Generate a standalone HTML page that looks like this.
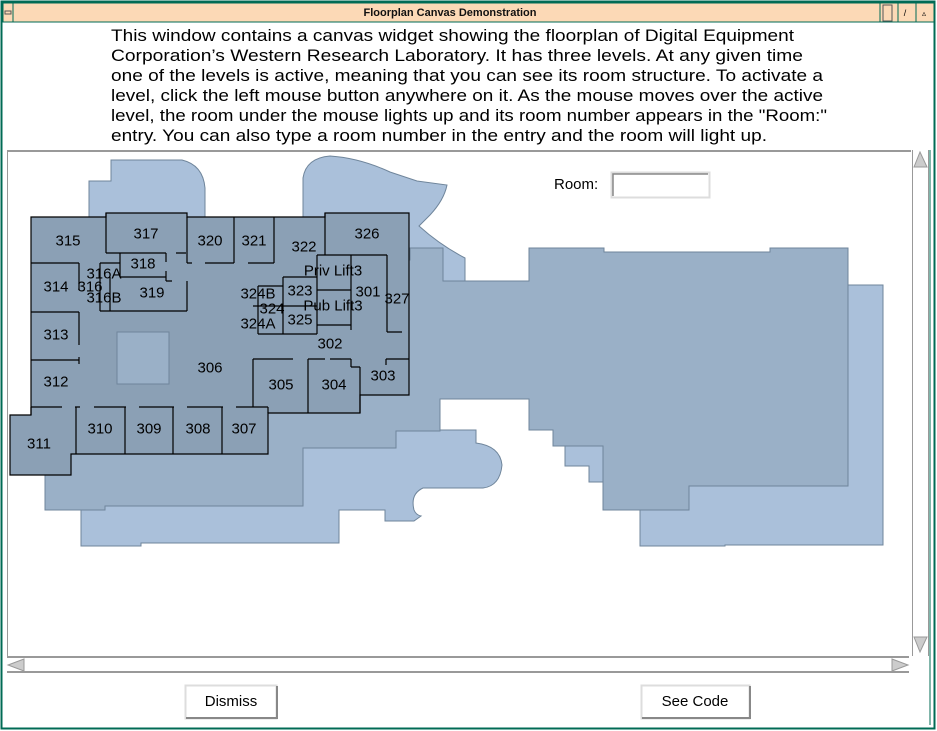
<!DOCTYPE html>
<html><head><meta charset="utf-8"><style>
html,body{margin:0;padding:0;background:#fff;width:937px;height:731px;overflow:hidden}
svg{display:block}
text{font-family:"Liberation Sans",sans-serif}
</style></head><body>
<svg width="937" height="731" viewBox="0 0 937 731" xmlns="http://www.w3.org/2000/svg">
<rect x="0" y="0" width="937" height="731" fill="#fff"/>
<rect x="1.5" y="1.5" width="933" height="727" fill="none" stroke="#006b55" stroke-width="2"/>
<rect x="3" y="3" width="931" height="19" fill="#fcd9b6" stroke="#006b55" stroke-width="1"/>
<line x1="13" y1="3" x2="13" y2="22" stroke="#006b55"/>
<rect x="5" y="11" width="6" height="3" fill="none" stroke="#555" stroke-width="1"/>
<line x1="880" y1="3" x2="880" y2="22" stroke="#006b55"/>
<rect x="883" y="5" width="9" height="16" fill="none" stroke="#555"/>
<line x1="898" y1="3" x2="898" y2="22" stroke="#006b55"/>
<line x1="916" y1="3" x2="916" y2="22" stroke="#006b55"/>
<text x="905" y="16" font-size="9" text-anchor="middle">/</text>
<text x="924" y="16" font-size="8" text-anchor="middle">▵</text>
<text x="450" y="16" font-size="11" font-weight="bold" text-anchor="middle" fill="#111">Floorplan Canvas Demonstration</text>

<g font-size="17" fill="#000">
<text x="111" y="41" textLength="683" lengthAdjust="spacingAndGlyphs">This window contains a canvas widget showing the floorplan of Digital Equipment</text>
<text x="111" y="61" textLength="692" lengthAdjust="spacingAndGlyphs">Corporation’s Western Research Laboratory.  It has three levels.  At any given time</text>
<text x="111" y="81" textLength="712" lengthAdjust="spacingAndGlyphs">one of the levels is active, meaning that you can see its room structure.  To activate a</text>
<text x="111" y="101" textLength="712" lengthAdjust="spacingAndGlyphs">level, click the left mouse button anywhere on it.  As the mouse moves over the active</text>
<text x="111" y="121" textLength="716" lengthAdjust="spacingAndGlyphs">level, the room under the mouse lights up and its room number appears in the "Room:"</text>
<text x="111" y="141" textLength="656" lengthAdjust="spacingAndGlyphs">entry.  You can also type a room number in the entry and the room will light up.</text>
</g>

<line x1="7" y1="151" x2="911" y2="151" stroke="#999" stroke-width="2"/>
<line x1="7.5" y1="151" x2="7.5" y2="656" stroke="#999"/>

<g fill="#aac0da" stroke="#6f859b" stroke-width="1">
<path d="M89,181 L111,181 L111,160 L182,160 Q203,165 205,188 L205,240 L89,240 Z"/>
<path d="M303,240 L303,178 Q306,158 330,156 Q360,158 390,172 L417,181 L447,185 Q444,200 430,215 L419,226 Q440,245 465,258 L465,300 L303,300 Z"/>
<path d="M848,285 L883,285 L883,545 L725,545 L725,546 L640,546 L640,480 L848,480 Z"/>
<path d="M60,430 L476,430 L476,443 Q500,446 502,465 Q500,486 483,488 L423,488 Q410,494 414,510 Q416,515 421,516 L414,521 L385,521 L385,510 L339,510 L339,543 L141,543 L141,546 L81,546 L81,500 L60,500 Z"/>
<path d="M553,440 L565,446 L565,466 L589,466 L589,482 L603,482 L603,440 Z"/>
</g>
<path fill="#9ab0c7" stroke="#6f859b" stroke-width="1" d="M410,248 L443,248 L443,281 L529,281 L529,248 L604,248 L604,252 L770,252 L770,248 L848,248 L848,486 L689,486 L689,510 L603,510 L603,446 L553,446 L553,430 L529,430 L529,399 L440,399 L440,431 L396,431 L396,448 L303,448 L303,506 L105,506 L105,510 L45,510 L45,260 L410,260 Z"/>

<path fill="#8ba0b5" stroke="#000" stroke-width="1.2" d="M31,217 L106,217 L106,213 L187,213 L187,217 L325,217 L325,213 L409,213 L409,395 L360,395 L360,413 L268,413 L268,454 L71,454 L71,475 L10,475 L10,415 L31,415 Z"/>
<rect x="117" y="332" width="52" height="52" fill="#9ab0c7" stroke="#6f859b"/>
<g stroke="#000" stroke-width="1.2" fill="none">
<path d="M31,263 H79 M79,263 V290 M31,312 H79 M79,312 V345 M31,360 H79 M79,357 V364"/>
<path d="M31,407 H62 M75,407 H80 M94,407 H126 M139,407 H174 M187,407 H223 M236,407 H268 M268,407 V413 M76,407 V454 M125,407 V454 M173,407 V454 M222,407 V454 M31,415 V407"/>
<path d="M106,213 V253 M106,253 H166 M176,253 H186 M187,217 V263 M120,253 V277 M120,277 H166 M166,253 V262 M166,271 V281 M166,281 H172"/>
<path d="M110,277 V311 M110,311 H187 M187,281 V311 M100,263 H120 M100,263 V311 M100,311 H110"/>
<path d="M187,263 H192 M205,263 H234 M248,263 H274 M234,217 V263 M274,217 V263"/>
<path d="M325,213 V255 M317,255 H387 M317,255 V334 M351,255 V330 M387,255 V332 M387,332 H402 M317,290 H351 M317,325 H351"/>
<path d="M283,277 H317 M283,277 V334 M283,334 H317 M283,306 H317"/>
<path d="M258,286 H283 M258,286 V334 M253,306 H283 M258,334 H283"/>
<path d="M360,367 V413 M386,359 H409 M386,359 V365 M351,367 H360 M351,359 V367"/>
<path d="M253,359 H293 M308,359 H325 M330,359 H351 M253,359 V407 M308,359 V413"/>
</g>
<g font-size="15" text-anchor="middle" dominant-baseline="central" fill="#000">
<text x="68" y="241">315</text><text x="146" y="234">317</text><text x="210" y="241">320</text>
<text x="254" y="241">321</text><text x="304" y="247">322</text><text x="367" y="234">326</text>
<text x="143" y="264">318</text><text x="104" y="274">316A</text><text x="56" y="287">314</text>
<text x="90" y="287">316</text><text x="104" y="298">316B</text><text x="152" y="293">319</text>
<text x="333" y="271">Priv Lift3</text><text x="300" y="291">323</text><text x="368" y="292">301</text>
<text x="397" y="299">327</text><text x="258" y="294">324B</text><text x="272" y="309">324</text>
<text x="333" y="306">Pub Lift3</text><text x="258" y="324">324A</text><text x="300" y="320">325</text>
<text x="330" y="344">302</text><text x="56" y="335">313</text><text x="210" y="368">306</text>
<text x="56" y="382">312</text><text x="281" y="385">305</text><text x="334" y="385">304</text>
<text x="383" y="376">303</text><text x="39" y="444">311</text><text x="100" y="429">310</text>
<text x="149" y="429">309</text><text x="198" y="429">308</text><text x="244" y="429">307</text>
</g>

<text x="554" y="189" font-size="15" fill="#000">Room:</text>
<rect x="611.5" y="172.5" width="98" height="25" fill="#fff" stroke="#ddd" stroke-width="2"/>
<path d="M613,196 V174 H708" fill="none" stroke="#888" stroke-width="1.5"/>

<rect x="912" y="150" width="17" height="506" fill="#fff"/>
<line x1="912.5" y1="150" x2="912.5" y2="656" stroke="#999"/>
<line x1="928.5" y1="150" x2="928.5" y2="656" stroke="#999"/>
<path d="M914,167 L920,152 L927,167 Z" fill="#ccc" stroke="#999"/>
<path d="M914,637 L920,652 L927,637 Z" fill="#ccc" stroke="#999"/>
<line x1="930" y1="150" x2="930" y2="725" stroke="#006b55"/>
<line x1="7" y1="657" x2="909" y2="657" stroke="#999" stroke-width="2"/>
<line x1="7" y1="672" x2="909" y2="672" stroke="#999" stroke-width="2"/>
<path d="M24,659 L8,665 L24,671 Z" fill="#ccc" stroke="#999"/>
<path d="M892,659 L908,665 L892,671 Z" fill="#ccc" stroke="#999"/>

<rect x="185.5" y="685.5" width="91" height="33" fill="#fff" stroke="#ddd" stroke-width="2"/>
<path d="M186,718 H277 V686" fill="none" stroke="#888" stroke-width="2"/>
<text x="231" y="706" font-size="15" text-anchor="middle">Dismiss</text>
<rect x="641.5" y="685.5" width="108" height="33" fill="#fff" stroke="#ddd" stroke-width="2"/>
<path d="M642,718 H750 V686" fill="none" stroke="#888" stroke-width="2"/>
<text x="695" y="706" font-size="15" text-anchor="middle">See Code</text>
</svg>
</body></html>
